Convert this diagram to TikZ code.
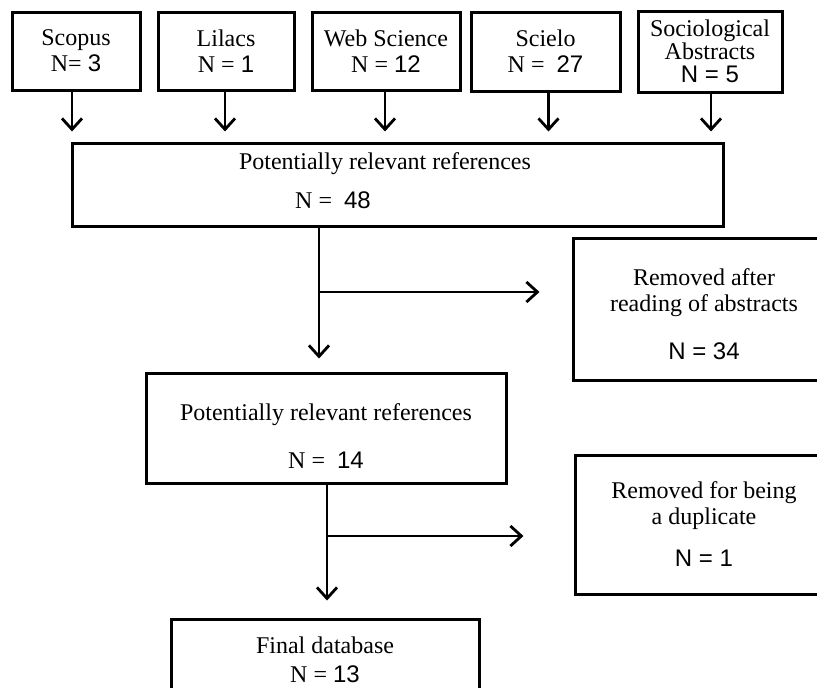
\documentclass[tikz,border=0pt]{standalone}
\usepackage{fontspec}
\setmainfont{Liberation Serif}
\newfontfamily\sansnum{Liberation Sans}
\usetikzlibrary{arrows.meta}
\tikzset{
  >={Straight Barb[length=11pt,width=20pt]},
}
\tikzstyle{box}=[draw,line width=3pt,align=center,inner sep=0pt]
\tikzstyle{flow}=[line width=2.8pt,->]
\tikzstyle{every node}=[font=\fontsize{24}{26}\selectfont]

\begin{document}
\begin{tikzpicture}[x=1pt,y=-1pt]
    \clip (0,0) rectangle (817,688);
    \fill[white] (0,0) rectangle (817,688);
    % databases
    \node[box,minimum width=128pt,minimum height=78pt] (scopus) at (76,51) {Scopus\\N= {\sansnum 3}};
    \node[box,minimum width=136pt,minimum height=78pt] (lilacs) at (226,51) {Lilacs\\N = {\sansnum 1}};
    \node[box,minimum width=148pt,minimum height=78pt] (web) at (386,51) {Web Science\\N = {\sansnum 12}};
    \node[box,minimum width=149pt,minimum height=79pt] (scielo) at (545.5,51.5) {Scielo\\N = \ {\sansnum 27}};
    \node[box,minimum width=144pt,minimum height=81pt] (socio) at (710,51.5) {Sociological\\[-3pt]Abstracts\\[-3pt]{\sansnum N = 5}};
    % screening
    \node[box,minimum width=651pt,minimum height=83pt] (pot1) at (397.5,184.5) {};
    \node (pot1a) at (385,164) {Potentially relevant references};
    \node (pot1b) at (333,200) {N = \ {\sansnum 48}};
    \node[box,minimum width=262pt,minimum height=142pt] (rem1) at (704,309) {\\[2pt]Removed after\\reading of abstracts\\[22pt]{\sansnum N = 34}};
    \node[box,minimum width=360pt,minimum height=110pt] (pot2) at (326,428) {\\[6pt]Potentially relevant references\\[22pt]N = \ {\sansnum 14}};
    \node[box,minimum width=258pt,minimum height=139pt] (rem2) at (704,524.5) {Removed for being\\a duplicate\\[16pt]{\sansnum N = 1}};
    \node[box,minimum width=308pt,minimum height=86pt] (final) at (325,662) {\\[-14pt]Final database\\[3pt]N = {\sansnum 13}};
    % arrows
    \foreach \src/\dx in {scopus/-4,lilacs/-1,web/-1,scielo/3,socio/1}
      \draw[flow,shorten >=10pt] ([xshift=\dx pt]\src.south) -- ([xshift=\dx pt]\src.south |- pot1.north);
    \coordinate (j1) at (319,292);
    \coordinate (j2) at (327,536);
    \draw[flow,shorten >=13pt] (j1 |- pot1.south) -- (j1 |- pot2.north);
    \draw[flow,shorten >=32pt] (j1) -- (j1 -| rem1.west);
    \draw[flow,shorten >=17pt] (j2 |- pot2.south) -- (j2 |- final.north);
    \draw[flow,shorten >=50pt] (j2) -- (j2 -| rem2.west);
\end{tikzpicture}
\end{document}
